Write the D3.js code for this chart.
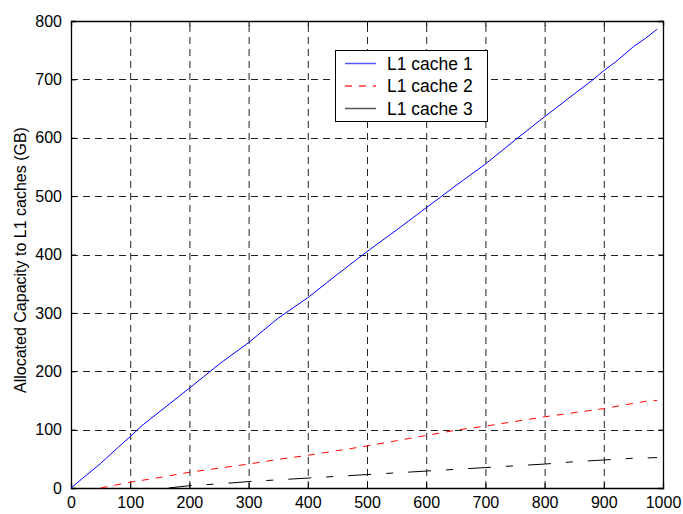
<!DOCTYPE html>
<html>
<head>
<meta charset="utf-8">
<script src="https://cdn.jsdelivr.net/npm/d3@7"></script>
<style>
  html, body { margin: 0; padding: 0; background: #fff; }
  svg { display: block; font-family: "Liberation Sans", Arial, sans-serif; }
</style>
</head>
<body>
<svg id="chart" width="683" height="514"></svg>
<script>
// Allocated capacity (GB) per L1 cache over time
const xTicks = [0, 100, 200, 300, 400, 500, 600, 700, 800, 900, 1000];
const yTicks = [0, 100, 200, 300, 400, 500, 600, 700, 800];

const cache1X = [0, 20, 50, 80, 100, 120, 150, 200, 250, 300, 350, 400, 450, 500, 550, 600, 650, 700, 750, 800, 850, 880, 900, 920, 950, 970, 990];
const cache1Y = [0, 17, 42, 70, 88, 107, 131, 171, 212, 249, 291, 326, 366, 405, 442, 480, 518, 555, 596, 636, 675, 698, 715, 730, 756, 770, 786];

const cache2X = [50, 100, 150, 200, 250, 300, 350, 400, 450, 500, 550, 600, 650, 700, 750, 800, 850, 900, 950, 980, 990];
const cache2Y = [0, 10, 18, 27, 34, 41, 49, 56, 64, 72, 81, 90, 99, 106, 114, 122, 129, 136, 145, 150, 150];

const cache3X = [165, 200, 250, 300, 350, 400, 450, 500, 550, 600, 650, 700, 750, 800, 850, 900, 950, 990];
const cache3Y = [0, 4, 7, 11, 14, 17, 20, 23, 26, 29, 32, 35, 38, 41, 45, 48, 51, 52];

const seriesNames = ["L1 cache 1", "L1 cache 2", "L1 cache 3"];
const seriesColors = ["#0000ff", "#ff0000", "#000000"];

const svg = d3.select("#chart");
const x = d3.scaleLinear().domain([0, 1000]).range([71, 663]);
const y = d3.scaleLinear().domain([0, 800]).range([488, 21]);

// grid
const grid = svg.append("g").attr("stroke", "#222").attr("stroke-width", 1)
  .attr("stroke-dasharray", "7,5");
grid.selectAll("line.v").data(xTicks.slice(1, -1)).join("line")
  .attr("x1", d => x(d) + 0.5).attr("x2", d => x(d) + 0.5)
  .attr("y1", y(0)).attr("y2", y(800));
grid.selectAll("line.h").data(yTicks.slice(1, -1)).join("line")
  .attr("y1", d => Math.round(y(d)) + 0.5).attr("y2", d => Math.round(y(d)) + 0.5)
  .attr("x1", x(0)).attr("x2", x(1000));

// axes (inward ticks on all four sides)
const axB = d3.axisBottom(x).tickValues(xTicks).tickSize(-5).tickPadding(9).tickFormat(d3.format("d"));
const axL = d3.axisLeft(y).tickValues(yTicks).tickSize(-5).tickPadding(9).tickFormat(d3.format("d"));
const axT = d3.axisTop(x).tickValues(xTicks).tickSize(-5).tickFormat("");
const axR = d3.axisRight(y).tickValues(yTicks).tickSize(-5).tickFormat("");

function style(g) {
  g.select(".domain").attr("stroke", "#000").attr("stroke-width", 1.3);
  g.selectAll(".tick line").attr("stroke", "#000");
  g.selectAll(".tick text").attr("fill", "#000").attr("font-size", 16)
    .attr("font-family", "'Liberation Sans', Arial, sans-serif");
}
svg.append("g").attr("transform", `translate(0,${y(0)})`).call(axB).call(style);
svg.append("g").attr("transform", `translate(${x(0)},0)`).call(axL).call(style);
svg.append("g").attr("transform", `translate(0,${y(800)})`).call(axT).call(style);
svg.append("g").attr("transform", `translate(${x(1000)},0)`).call(axR).call(style);

// y label
svg.append("text")
  .attr("transform", `translate(26,260) rotate(-90)`)
  .attr("text-anchor", "middle")
  .attr("font-size", 16)
  .attr("fill", "#000")
  .text("Allocated Capacity to L1 caches (GB)");

// lines
const line = d3.line().x(d => x(d[0])).y(d => y(d[1]));
const series = [
  { xs: cache1X, ys: cache1Y, dash: null },
  { xs: cache2X, ys: cache2Y, dash: "7,7" },
  { xs: cache3X, ys: cache3Y, dash: "23,15,7,15" }
];
series.forEach((s, i) => {
  svg.append("path")
    .datum(s.xs.map((v, j) => [v, s.ys[j]]))
    .attr("fill", "none")
    .attr("stroke", seriesColors[i])
    .attr("stroke-width", 1)
    .attr("stroke-dasharray", s.dash)
    .attr("d", line);
});

// legend
const lg = svg.append("g");
lg.append("rect").attr("x", 335.5).attr("y", 50.5).attr("width", 152).attr("height", 71)
  .attr("fill", "#fff").attr("stroke", "#000").attr("stroke-width", 1);
const legendDash = ["none", "7,7", "none"];
const legendStroke = ["#5555ff", "#ff3333", "#555555"];
seriesNames.forEach((name, i) => {
  const ly = 63.5 + i * 22.5;
  lg.append("line").attr("x1", 345).attr("x2", 376).attr("y1", ly).attr("y2", ly)
    .style("stroke", legendStroke[i]).style("stroke-width", 1.5)
    .style("stroke-dasharray", legendDash[i]);
  lg.append("text").attr("x", 387).attr("y", ly + 6).attr("font-size", 17.5)
    .attr("fill", "#000").text(name);
});
</script>
</body>
</html>
